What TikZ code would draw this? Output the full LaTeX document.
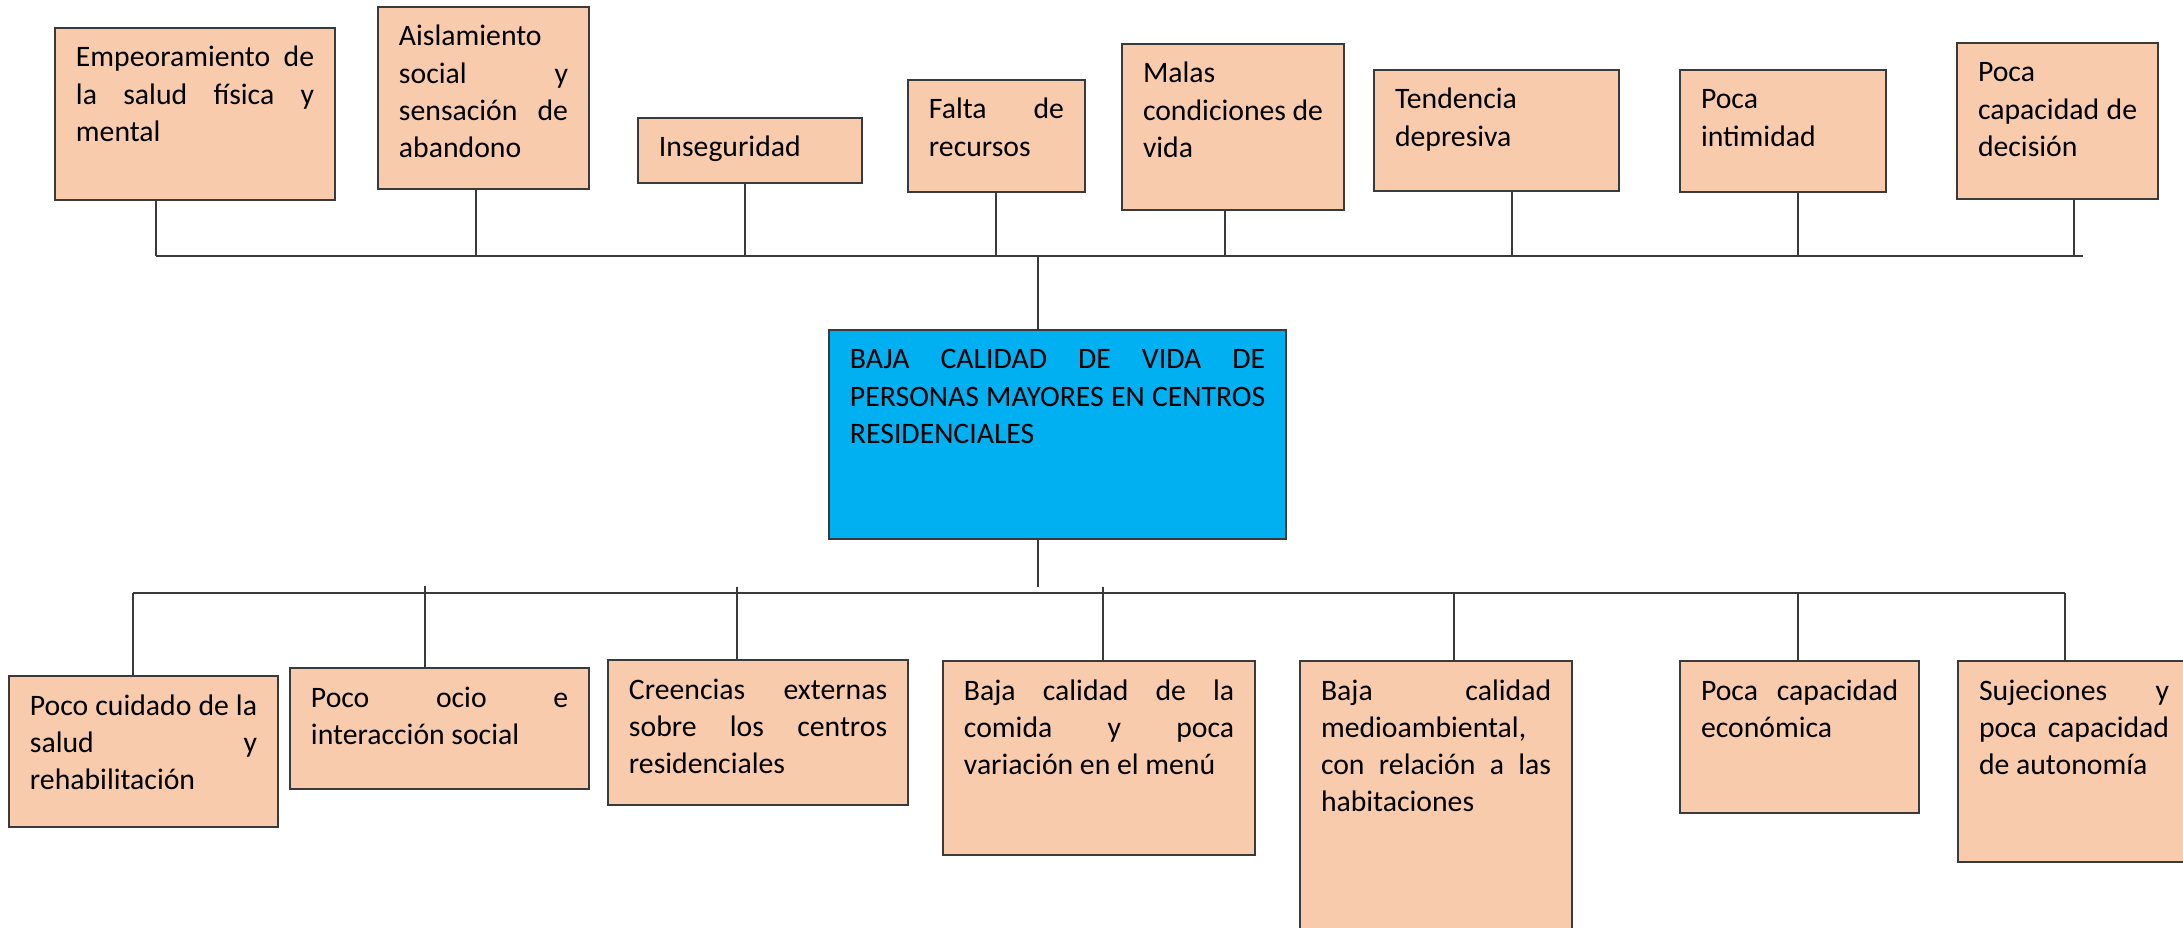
\documentclass[tikz,border=0pt]{standalone}
\usepackage{fontspec}
\setmainfont{Carlito}
\usepackage{tikz}
\usetikzlibrary{positioning}
\definecolor{salmon}{HTML}{F8CBAD}
\definecolor{celeste}{HTML}{00B0F0}
\definecolor{trazo}{HTML}{3A3A3A}
\hyphenpenalty=10000
\exhyphenpenalty=10000
\tolerance=10000

\begin{document}
\begin{tikzpicture}[
  x=0.01cm, y=-0.01cm,
  font=\fontsize{8.45pt}{10.6pt}\selectfont,
  box/.style={draw=trazo, line width=0.55pt, fill=salmon, anchor=north west,
    align=justify, inner xsep=0.21cm, inner ysep=0pt, text height=0.39cm},
  central/.style={box, fill=celeste},
  linea/.style={draw=trazo, line width=0.45pt}
]
\clip (0,0) rectangle (2183,927);

% efectos
\node[box, text width=2.38cm, text depth=1.33cm] (salud) at (54,27) {Empeoramiento de\linebreak la salud física y\linebreak mental};
\node[box, text width=1.69cm, text depth=1.43cm] (aislamiento) at (377,6) {Aislamiento\linebreak social y\linebreak sensación de\linebreak abandono};
\node[box, text width=1.82cm, text depth=0.26cm] (inseguridad) at (637,117) {Inseguridad};
\node[box, text width=1.35cm, text depth=0.73cm] (recursos) at (907,79) {Falta de\linebreak recursos};
\node[box, text width=1.80cm, text depth=1.27cm] (condiciones) at (1121,43) {Malas\linebreak condiciones de\linebreak vida};
\node[box, text width=2.03cm, text depth=0.82cm] (depresion) at (1373,69) {Tendencia\linebreak depresiva};
\node[box, text width=1.64cm, text depth=0.83cm] (intimidad) at (1679,69) {Poca\linebreak intimidad};
\node[box, text width=1.59cm, text depth=1.17cm] (decision) at (1956,42) {Poca\linebreak capacidad de\linebreak decisión};

% problema
\node[central, text width=4.15cm, text depth=1.70cm] (problema) at (828,329) {BAJA CALIDAD DE VIDA DE\linebreak PERSONAS MAYORES EN CENTROS\linebreak RESIDENCIALES};

% causas
\node[box, text width=2.27cm, text depth=1.12cm] (cuidado) at (8,675) {Poco cuidado de la\linebreak salud y\linebreak rehabilitación};
\node[box, text width=2.57cm, text depth=0.82cm] (ocio) at (289,667) {Poco ocio e\linebreak interacción social};
\node[box, text width=2.58cm, text depth=1.06cm] (creencias) at (607,659) {Creencias externas\linebreak sobre los centros\linebreak residenciales};
\node[box, text width=2.70cm, text depth=1.55cm] (comida) at (942,660) {Baja calidad de la\linebreak comida y poca\linebreak variación en el menú};
\node[box, text width=2.30cm, text depth=2.70cm] (ambiente) at (1299,660) {Baja calidad\linebreak medioambiental,\linebreak con relación a las\linebreak habitaciones};
\node[box, text width=1.97cm, text depth=1.13cm] (economia) at (1679,660) {Poca capacidad\linebreak económica};
\node[box, text width=1.90cm, text depth=1.62cm] (sujeciones) at (1957,660) {Sujeciones y\linebreak poca capacidad\linebreak de autonomía};

% linea superior
\coordinate (a1) at (156,256);
\coordinate (a2) at (476,256);
\coordinate (a3) at (745,256);
\coordinate (a4) at (996,256);
\coordinate (a5) at (1225,256);
\coordinate (a6) at (1512,256);
\coordinate (a7) at (1798,256);
\coordinate (a8) at (2074,256);
\coordinate (afin) at (2083,256);
\coordinate (ac) at (1038,256);
\draw[linea] (a1) -- (afin);
\draw[linea] (salud.south -| a1) -- (a1);
\draw[linea] (aislamiento.south -| a2) -- (a2);
\draw[linea] (inseguridad.south -| a3) -- (a3);
\draw[linea] (recursos.south -| a4) -- (a4);
\draw[linea] (condiciones.south -| a5) -- (a5);
\draw[linea] (depresion.south -| a6) -- (a6);
\draw[linea] (intimidad.south -| a7) -- (a7);
\draw[linea] (decision.south -| a8) -- (a8);
\draw[linea] (ac) -- (problema.north -| ac);

% linea inferior
\coordinate (bc) at (1038,587);
\coordinate (b1) at (133,593);
\coordinate (b2) at (425,586);
\coordinate (b3) at (737,587);
\coordinate (b4) at (1103,587);
\coordinate (b5) at (1454,593);
\coordinate (b6) at (1798,593);
\coordinate (b7) at (2065,593);
\draw[linea] (problema.south -| bc) -- (bc);
\draw[linea] (b1) -- (b7);
\draw[linea] (b1) -- (cuidado.north -| b1);
\draw[linea] (b2) -- (ocio.north -| b2);
\draw[linea] (b3) -- (creencias.north -| b3);
\draw[linea] (b4) -- (comida.north -| b4);
\draw[linea] (b5) -- (ambiente.north -| b5);
\draw[linea] (b6) -- (economia.north -| b6);
\draw[linea] (b7) -- (sujeciones.north -| b7);
\end{tikzpicture}
\end{document}
